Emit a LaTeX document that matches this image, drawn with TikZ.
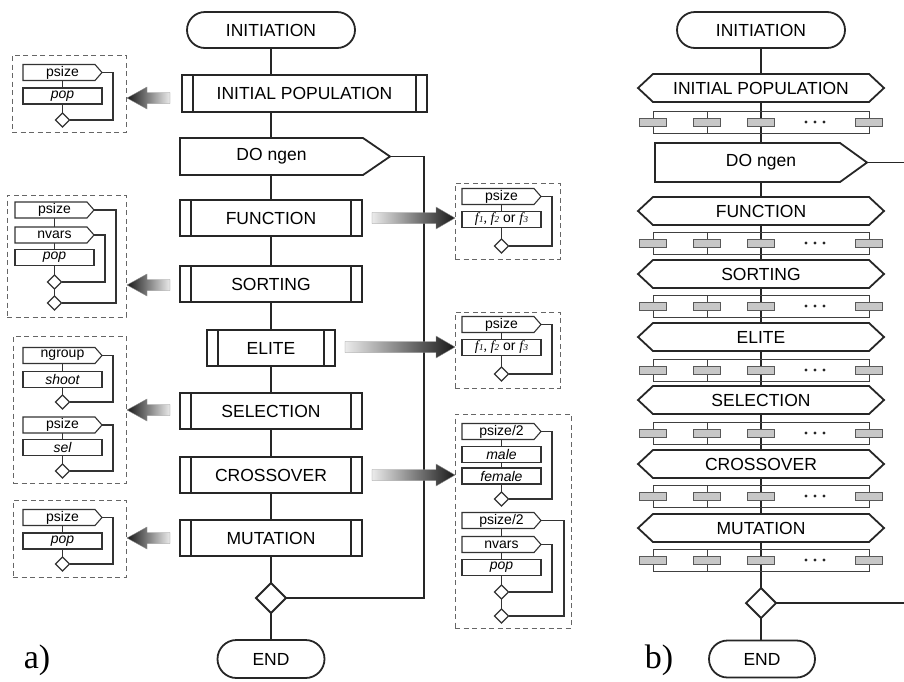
\documentclass[tikz,border=0pt]{standalone}
\usepackage{fontspec}
\setmainfont{Liberation Sans}
\newfontfamily\timesf{Liberation Serif}
\usetikzlibrary{shapes.misc,shapes.geometric,calc}
\pgfdeclarelayer{bg}\pgfdeclarelayer{mid}
\pgfsetlayers{bg,mid,main}
\tikzset{
 mainline/.style={line width=1.8pt, draw=black!85},
 smallline/.style={line width=1.1pt, draw=black!80},
 bigtext/.style={inner sep=0pt, outer sep=0pt, font=\fontsize{17.5}{18}\selectfont},
 term/.style={rounded rectangle, mainline, fill=white, minimum height=36pt, bigtext},
 procnode/.style={rectangle, mainline, fill=white, bigtext},
 smalltext/.style={inner sep=0pt, outer sep=0pt, font=\fontsize{14}{14}\selectfont},
 srectnode/.style={rectangle, smallline, fill=white, inner sep=0pt, outer sep=0pt, minimum width=79pt, minimum height=16pt, font=\fontsize{14}{14}\selectfont\itshape},
 bigdiamond/.style={diamond, mainline, fill=white, minimum width=30pt, minimum height=30pt, inner sep=0pt, outer sep=0pt},
 smalldiamond/.style={diamond, smallline, fill=white, minimum width=14pt, minimum height=14pt, inner sep=0pt, outer sep=0pt},
 dashbox/.style={rectangle, draw=black!60, line width=0.9pt, dash pattern=on 5pt off 3.5pt, inner sep=0pt, outer sep=0pt},
 rowline/.style={line width=0.9pt, draw=black!75},
 grayrect/.style={rectangle, fill=black!22, draw=black!65, line width=0.9pt, minimum width=27pt, minimum height=8pt, inner sep=0pt, outer sep=0pt},
 labeltext/.style={inner sep=0pt, font=\timesf\fontsize{34}{34}\selectfont},
}
% double-bar process box: name, x1, y1, x2, y2, text
\newcommand\procbox[6]{%
 \node[procnode, minimum width={(#4)-(#2)}, minimum height={(#5)-(#3)}] (#1) at ({((#2)+(#4))/2},{((#3)+(#5))/2}) {#6};
 \draw[mainline] ($(#1.north west)+(11,0)$) -- ($(#1.south west)+(11,0)$)
   ($(#1.north east)+(-11,0)$) -- ($(#1.south east)+(-11,0)$);}
% big pentagon: name, x1, y1, x2, y2, tipx, text
\newcommand\bigpent[7]{%
 \node[bigtext, minimum width={(#4)-(#2)}, minimum height={(#5)-(#3)}] (#1) at ({((#2)+(#4))/2},{((#3)+(#5))/2}) {#7};
 \begin{pgfonlayer}{mid}
 \filldraw[mainline, fill=white] (#1.north west) -- (#1.north east) -- (#6,{((#3)+(#5))/2}) coordinate (#1-tip) -- (#1.south east) -- (#1.south west) -- cycle;
 \end{pgfonlayer}}
% hexagon: name, cy, text
\newcommand\hexbox[3]{%
 \node[bigtext, minimum width=216pt, minimum height=28pt] (#1) at (761,#2) {#3};
 \begin{pgfonlayer}{mid}
 \filldraw[mainline, fill=white] (#1.north west) -- (#1.north east) -- ++(15,14) -- (#1.south east) -- (#1.south west) -- ++(-15,-14) -- cycle;
 \end{pgfonlayer}}
% parallel row: name, cy
\newcommand\prow[2]{%
 \draw[rowline] (653,{(#2)-11}) rectangle (869,{(#2)+11});
 \draw[rowline] (707,{(#2)-11}) -- (707,{(#2)+11});
 \node[grayrect] (#1a) at (653,#2) {};
 \node[grayrect] (#1b) at (707,#2) {};
 \node[grayrect] (#1c) at (761,#2) {};
 \node[grayrect] (#1d) at (869,#2) {};
 \fill[black!85] (806,#2) circle (1.6) (815,#2) circle (1.6) (824,#2) circle (1.6);}
% small pentagon: name, x1, cy, text
\newcommand\spent[4]{%
 \node[smalltext, minimum width=72pt, minimum height=16pt] (#1) at ({(#2)+36},#3) {\hspace*{7pt}#4};
 \begin{pgfonlayer}{mid}
 \filldraw[smallline, fill=white] (#1.north west) -- (#1.north east) -- ++(7,8) coordinate (#1-tip) -- (#1.south east) -- (#1.south west) -- cycle;
 \end{pgfonlayer}}
% small rectangle: name, x1, cy, text
\newcommand\srect[4]{\node[srectnode] (#1) at ({(#2)+39.5},#3) {#4};}
% gradient arrows: tipx, tailx, y
\newcommand\gradL[3]{\shade[left color=black!90, right color=black!8, draw=black!45, line width=0.4pt]
 (#1,#3) -- ({(#1)+20},{(#3)-11}) -- ({(#1)+20},{(#3)-5.5}) -- (#2,{(#3)-5.5}) -- (#2,{(#3)+5.5}) -- ({(#1)+20},{(#3)+5.5}) -- ({(#1)+20},{(#3)+11}) -- cycle;}
\newcommand\gradR[3]{\shade[right color=black!90, left color=black!8, draw=black!45, line width=0.4pt]
 (#1,#3) -- ({(#1)-19},{(#3)-11}) -- ({(#1)-19},{(#3)-5.5}) -- (#2,{(#3)-5.5}) -- (#2,{(#3)+5.5}) -- ({(#1)-19},{(#3)+5.5}) -- ({(#1)-19},{(#3)+11}) -- cycle;}
\newcommand\ftxt{{\timesf\itshape f\kern0.3pt{\fontsize{9}{9}\selectfont 1}, f\kern0.3pt{\fontsize{9}{9}\selectfont 2}} {\upshape or} {\timesf\itshape f\kern0.3pt{\fontsize{9}{9}\selectfont 3}}}

\begin{document}
\begin{tikzpicture}[x=1pt,y=-1pt]
\useasboundingbox (0,0) rectangle (904,681);
% ================= panel a =================
\node[term, minimum width=168pt] (inita) at (271,30) {INITIATION};
\procbox{ipa}{182}{75}{427}{112}{INITIAL POPULATION}
\bigpent{doa}{180}{138}{363}{175}{390}{DO ngen}
\procbox{funa}{180}{200}{362}{236}{FUNCTION}
\procbox{sorta}{180}{266}{362}{302}{SORTING}
\procbox{elitea}{207}{330}{335}{366}{ELITE}
\procbox{sela}{180}{393}{362}{429}{SELECTION}
\procbox{crossa}{180}{457}{362}{493}{CROSSOVER}
\procbox{muta}{180}{520}{362}{556}{MUTATION}
\node[bigdiamond] (dia) at (271,598) {};
\node[term, minimum width=107pt, minimum height=38pt] (enda) at (271,659) {END};
\node[labeltext] (labela) at (37,660) {a)};
\begin{pgfonlayer}{bg}
\draw[mainline] (inita.south) -- (enda.north);
\draw[mainline] (doa-tip) -- ++(34,0) |- (dia.east);
\end{pgfonlayer}
% ---- side box 1 (initial population)
\node[dashbox, minimum width=114pt, minimum height=77pt] (sb1) at (69,93.5) {};
\spent{s1p}{23}{72.5}{psize}
\srect{s1r}{23}{96}{pop}
\node[smalldiamond] (s1d) at (62.5,120) {};
% ---- side box 2 (sorting)
\node[dashbox, minimum width=119pt, minimum height=122pt] (sb2) at (66.5,256) {};
\spent{s2p}{15}{210}{psize}
\spent{s2n}{15}{235}{nvars}
\srect{s2r}{15}{257.5}{pop}
\node[smalldiamond] (s2d1) at (54.5,282) {};
\node[smalldiamond] (s2d2) at (54.5,303) {};
% ---- side box 3 (selection)
\node[dashbox, minimum width=113pt, minimum height=147pt] (sb3) at (69.5,409.5) {};
\spent{s3p}{23}{355.5}{ngroup}
\srect{s3r}{23}{379.5}{shoot}
\node[smalldiamond] (s3d1) at (62.5,402) {};
\spent{s3q}{23}{425}{psize}
\srect{s3s}{23}{447.5}{sel}
\node[smalldiamond] (s3d2) at (62.5,471) {};
% ---- side box 4 (mutation)
\node[dashbox, minimum width=113pt, minimum height=77pt] (sb4) at (69.5,538.5) {};
\spent{s4p}{23}{517.5}{psize}
\srect{s4r}{23}{541}{pop}
\node[smalldiamond] (s4d) at (62.5,564) {};
% ---- side box 5 (function)
\node[dashbox, minimum width=105pt, minimum height=76pt] (sb5) at (507.5,221) {};
\spent{s5p}{462}{196.5}{psize}
\srect{s5r}{462}{219.5}{\ftxt}
\node[smalldiamond] (s5d) at (501.5,246) {};
% ---- side box 6 (elite)
\node[dashbox, minimum width=105pt, minimum height=76pt] (sb6) at (507.5,350) {};
\spent{s6p}{462}{324.5}{psize}
\srect{s6r}{462}{347.5}{\ftxt}
\node[smalldiamond] (s6d) at (501.5,374) {};
% ---- side box 7 (crossover)
\node[dashbox, minimum width=116pt, minimum height=214pt] (sb7) at (513,521) {};
\spent{s7p}{462}{431.5}{psize/2}
\srect{s7m}{462}{454.5}{male}
\srect{s7f}{462}{476}{female}
\node[smalldiamond] (s7d1) at (501.5,499) {};
\spent{s7q}{462}{520.5}{psize/2}
\spent{s7n}{462}{544.5}{nvars}
\srect{s7r}{462}{567.5}{pop}
\node[smalldiamond] (s7d2) at (501.5,592) {};
\node[smalldiamond] (s7d3) at (501.5,616) {};
\begin{pgfonlayer}{bg}
\draw[smallline] (s1r.north) -- (s1r.north |- s1p.south) (s1r.south) -- (s1d.north) (s1p-tip) -- ++(11,0) |- (s1d.east);
\draw[smallline] (s2r.north |- s2p.south) -- (s2r.north |- s2n.north) (s2r.north |- s2n.south) -- (s2r.north)
  (s2r.south) -- (s2d1.north) (s2d1.south) -- (s2d2.north)
  (s2n-tip) -- ++(11,0) |- (s2d1.east) (s2p-tip) -- ++(22,0) |- (s2d2.east);
\draw[smallline] (s3r.north) -- (s3r.north |- s3p.south) (s3r.south) -- (s3d1.north) (s3p-tip) -- ++(11,0) |- (s3d1.east)
  (s3s.north) -- (s3s.north |- s3q.south) (s3s.south) -- (s3d2.north) (s3q-tip) -- ++(11,0) |- (s3d2.east);
\draw[smallline] (s4r.north) -- (s4r.north |- s4p.south) (s4r.south) -- (s4d.north) (s4p-tip) -- ++(11,0) |- (s4d.east);
\draw[smallline] (s5r.north) -- (s5r.north |- s5p.south) (s5r.south) -- (s5d.north) (s5p-tip) -- ++(11,0) |- (s5d.east);
\draw[smallline] (s6r.north) -- (s6r.north |- s6p.south) (s6r.south) -- (s6d.north) (s6p-tip) -- ++(11,0) |- (s6d.east);
\draw[smallline] (s7m.north) -- (s7m.north |- s7p.south) (s7m.south) -- (s7f.north) (s7f.south) -- (s7d1.north)
  (s7p-tip) -- ++(11,0) |- (s7d1.east)
  (s7r.north |- s7q.south) -- (s7r.north |- s7n.north) (s7r.north |- s7n.south) -- (s7r.north)
  (s7r.south) -- (s7d2.north) (s7d2.south) -- (s7d3.north)
  (s7n-tip) -- ++(11,0) |- (s7d2.east) (s7q-tip) -- ++(23,0) |- (s7d3.east);
\end{pgfonlayer}
% ---- gradient arrows
\gradL{127}{170}{98}
\gradL{127}{170}{285}
\gradL{127}{170}{410}
\gradL{127}{170}{538}
\gradR{455}{372}{218}
\gradR{455}{345}{347}
\gradR{455}{372}{475}
% ================= panel b =================
\node[term, minimum width=168pt] (initb) at (761,30) {INITIATION};
\hexbox{ipb}{88}{INITIAL POPULATION}
\prow{rowa}{122}
\bigpent{dob}{655}{143}{840}{182}{867}{}
\node[bigtext] (dobt) at (761,162.5) {DO ngen};
\hexbox{funb}{211}{FUNCTION}
\prow{rowb}{243}
\hexbox{sortb}{274}{SORTING}
\prow{rowc}{306}
\hexbox{eliteb}{337}{ELITE}
\prow{rowd}{370}
\hexbox{selb}{400}{SELECTION}
\prow{rowe}{433}
\hexbox{crossb}{464}{CROSSOVER}
\prow{rowf}{496}
\hexbox{mutb}{528}{MUTATION}
\prow{rowg}{560}
\node[bigdiamond] (dib) at (761,603) {};
\node[term, minimum width=106pt, minimum height=37pt] (endb) at (762,659) {END};
\node[labeltext] (labelb) at (659,660) {b)};
\coordinate (rimb) at (904,162.5);
\begin{pgfonlayer}{bg}
\draw[mainline] (initb.south) -- (initb.south |- endb.north);
\draw[mainline] (dob-tip) -- (rimb);
\draw[mainline] (dib.east) -- (dib.east -| rimb);
\end{pgfonlayer}
\end{tikzpicture}
\end{document}
